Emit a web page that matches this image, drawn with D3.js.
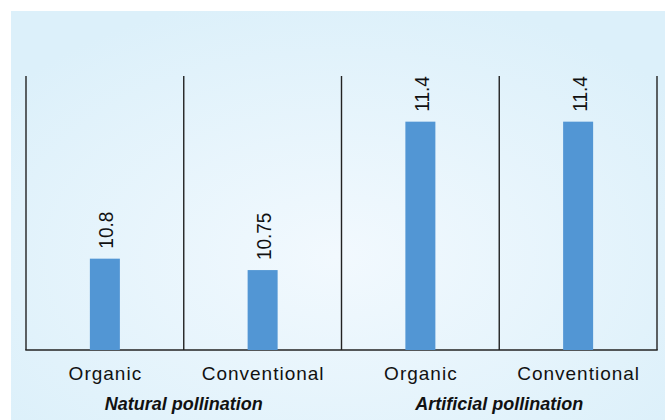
<!DOCTYPE html>
<html>
<head>
<meta charset="utf-8">
<script src="https://cdn.jsdelivr.net/npm/d3@7"></script>
<style>
  body { margin: 0; background: #fff; }
  text { font-family: "Liberation Sans", Arial, sans-serif; fill: #111; }
</style>
</head>
<body>
<div id="chart"></div>
<script>
const groups = ["Natural pollination", "Artificial pollination"];
const categories = ["Organic", "Conventional", "Organic", "Conventional"];
const values = [10.8, 10.75, 11.4, 11.4];
const yDomain = [10.4, 11.6];

function drawChart() {
  const width = 665, height = 420;
  const plot = { left: 26, right: 657, top: 76, bottom: 350 };
  const stretch = 1.09; // value labels in the original look a bit wide

  const svg = d3.select("#chart")
    .append("svg")
    .attr("width", width)
    .attr("height", height);

  const grad = svg.append("defs").append("radialGradient")
    .attr("id", "bg")
    .attr("cx", "50%").attr("cy", "60%").attr("r", "65%");
  grad.append("stop").attr("offset", "0%").attr("stop-color", "#f2f9fe");
  grad.append("stop").attr("offset", "100%").attr("stop-color", "#dcf0fa");

  svg.append("rect")
    .attr("x", 11).attr("y", 11)
    .attr("width", width - 11).attr("height", height - 11)
    .attr("fill", "url(#bg)");

  const keys = categories.map((d, i) => i);
  const x = d3.scaleBand()
    .domain(keys)
    .range([plot.left, plot.right])
    .padding(0);

  const xg = d3.scaleBand()
    .domain(groups)
    .range([plot.left, plot.right]);

  const y = d3.scaleLinear()
    .domain(yDomain)
    .range([plot.bottom, plot.top]);

  const barW = 30;

  // separators
  const seps = keys.map(k => x(k)).concat([plot.right]);
  svg.append("g")
    .selectAll("line")
    .data(seps)
    .join("line")
    .attr("x1", d => d).attr("x2", d => d)
    .attr("y1", plot.top).attr("y2", plot.bottom)
    .attr("stroke", "#222")
    .attr("stroke-width", 1.4);

  svg.append("line")
    .attr("x1", plot.left - 0.7).attr("x2", plot.right + 0.7)
    .attr("y1", plot.bottom).attr("y2", plot.bottom)
    .attr("stroke", "#222")
    .attr("stroke-width", 1.6);

  svg.append("g")
    .selectAll("rect")
    .data(values)
    .join("rect")
    .attr("x", (d, i) => x(i) + x.bandwidth() / 2 - barW / 2)
    .attr("y", d => y(d))
    .attr("width", barW)
    .attr("height", d => plot.bottom - y(d))
    .attr("fill", "#5296d4");

  svg.append("g")
    .selectAll("text")
    .data(values)
    .join("text")
    .attr("transform", (d, i) => `translate(${x(i) + x.bandwidth() / 2 + 1},${y(d) - 10}) scale(${stretch},1) rotate(-90)`)
    .attr("dy", "0.36em")
    .style("font-size", "19px")
    .text(d => d);

  svg.append("g")
    .selectAll("text")
    .data(categories)
    .join("text")
    .attr("x", (d, i) => x(i) + x.bandwidth() / 2 + 0.5)
    .attr("y", 380)
    .attr("text-anchor", "middle")
    .style("font-size", "19px")
    .style("letter-spacing", "1px")
    .text(d => d);

  svg.append("g")
    .selectAll("text")
    .data(groups)
    .join("text")
    .attr("x", d => xg(d) + xg.bandwidth() / 2)
    .attr("y", 410)
    .attr("text-anchor", "middle")
    .style("font-size", "18px")
    .style("font-weight", "bold")
    .style("font-style", "italic")
    .text(d => d);
}

drawChart();
</script>
</body>
</html>
